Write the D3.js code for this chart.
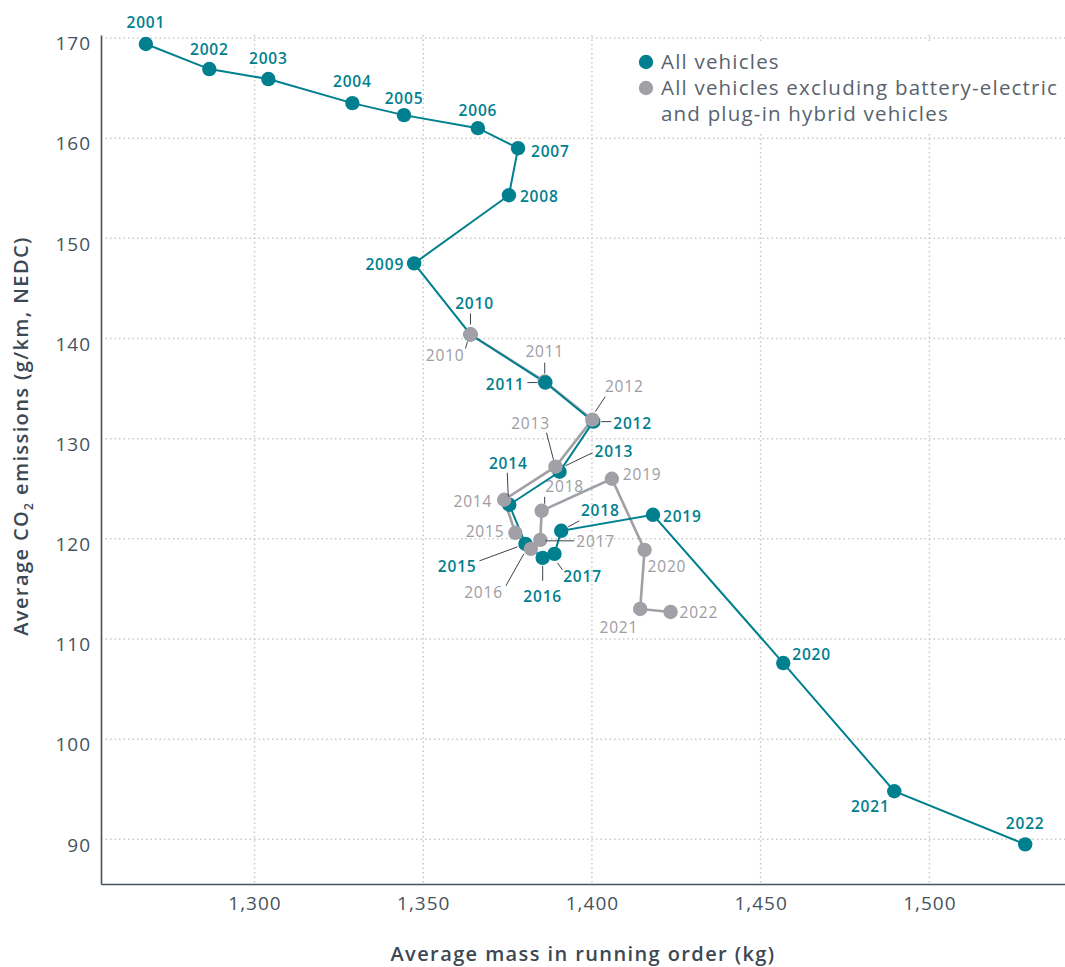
<!DOCTYPE html>
<html>
<head>
<meta charset="utf-8">
<script src="https://cdn.jsdelivr.net/npm/d3@7"></script>
<style>
  body { margin: 0; background: #fff; }
  svg { font-family: "Open Sans", sans-serif; }
</style>
</head>
<body>
<svg></svg>
<script>
// all vehicles
const YEARS = [2001, 2002, 2003, 2004, 2005, 2006, 2007, 2008, 2009, 2010, 2011,
  2012, 2013, 2014, 2015, 2016, 2017, 2018, 2019, 2020, 2021, 2022];
const ALL_MASS = [1267.8, 1286.6, 1304.1, 1329.0, 1344.3, 1366.2, 1378.1, 1375.4, 1347.3, 1364.0, 1386.2,
  1400.4, 1390.4, 1375.5, 1380.3, 1385.4, 1388.9, 1390.9, 1418.1, 1456.7, 1489.6, 1528.4];
const ALL_CO2 = [169.4, 166.9, 165.9, 163.5, 162.3, 161.0, 159.0, 154.3, 147.5, 140.4, 135.6,
  131.7, 126.7, 123.4, 119.5, 118.1, 118.5, 120.8, 122.4, 107.6, 94.8, 89.5];

// excluding BEV and PHEV
const EXCL_YEARS = [2010, 2011, 2012, 2013, 2014, 2015, 2016, 2017, 2018, 2019, 2020, 2021, 2022];
const EXCL_MASS = [1364.0, 1386.0, 1400.1, 1389.2, 1374.0, 1377.3, 1381.9, 1384.7, 1385.1, 1405.9, 1415.6, 1414.3, 1423.3];
const EXCL_CO2 = [140.4, 135.7, 131.9, 127.2, 123.9, 120.6, 119.0, 119.9, 122.8, 126.0, 118.9, 113.0, 112.7];

const X_TICKS = [1300, 1350, 1400, 1450, 1500];
const Y_TICKS = [90, 100, 110, 120, 130, 140, 150, 160, 170];

const TEAL = '#00808f';
const GREY = '#a0a0a6';
const INK = '#46525d';

// label placement (offset from dot in px, anchor, optional leader line)
const allLabelPos = {
  2001: [0, -22, 'middle'], 2002: [0, -20, 'middle'], 2003: [0, -21, 'middle'],
  2004: [0, -22, 'middle'], 2005: [0, -17, 'middle'], 2006: [0, -18, 'middle'],
  2007: [13, 3, 'start'], 2008: [11, 1, 'start'], 2009: [-10, 1, 'end'],
  2010: [4, -31, 'middle', [0, -21, 0, -10]],
  2011: [-21, 2, 'end', [-18, 0, -8, 0]],
  2012: [20, 2, 'start', [8, 0, 18, 0]],
  2013: [35, -20, 'start', [6, -6, 33, -19]],
  2014: [-1, -41, 'middle', [-2, -32, -1, -8]],
  2015: [-49, 23, 'end', [-46, 17, -8, 3]],
  2016: [0, 39, 'middle', [0, 8, 0, 23]],
  2017: [28, 23, 'middle', [3, 9, 8, 16]],
  2018: [39, -20, 'middle', [7, -4, 18, -10]],
  2019: [10, 2, 'start'], 2020: [9, -9, 'start'],
  2021: [-24, 15, 'middle'], 2022: [0, -21, 'middle']
};
const exclLabelPos = {
  2010: [-6, 21, 'end', [-3, 7, -5, 14]],
  2011: [0, -30, 'middle', [0, -19, 0, -8]],
  2012: [32, -33, 'middle', [13, -23, 3, -8]],
  2013: [-25, -43, 'middle', [-9, -34, -2, -7]],
  2014: [-12, 2, 'end'], 2015: [-11, -1, 'end'],
  2016: [-28, 44, 'end', [-25, 37, -7, 5]],
  2017: [36, 2, 'start', [5, 1, 34, 1]],
  2018: [23, -24, 'middle', [3, -14, 3, -7]],
  2019: [11, -4, 'start'], 2020: [3, 17, 'start'],
  2021: [-2, 18, 'end'], 2022: [9, 0, 'start']
};

const WIDTH = 1065, HEIGHT = 967;
const M = {top: 35, right: 0, bottom: 83, left: 101};

const svg = d3.select('svg').attr('width', WIDTH).attr('height', HEIGHT);

const x = d3.scaleLinear().domain([1254.5, 1540.2]).range([M.left, WIDTH - M.right]);
const y = d3.scaleLinear().domain([85.54, 170.3]).range([HEIGHT - M.bottom, M.top]);

// layers
const gridG = svg.append('g');
const axisG = svg.append('g');
const lineG = svg.append('g');
const dotG = svg.append('g');
const labelG = svg.append('g');
const legendG = svg.append('g');

// gridlines
gridG.attr('stroke', '#c9c9c9').attr('stroke-width', 1.5).attr('stroke-dasharray', '1.5,3');
gridG.selectAll('.gy').data(Y_TICKS).enter().append('line')
  .attr('x1', M.left).attr('x2', WIDTH).attr('y1', d => y(d)).attr('y2', d => y(d));
gridG.selectAll('.gx').data(X_TICKS).enter().append('line')
  .attr('x1', d => x(d)).attr('x2', d => x(d)).attr('y1', M.top).attr('y2', HEIGHT - M.bottom);

// axes
const xAxis = axisG.append('g')
  .attr('transform', `translate(0, ${HEIGHT - M.bottom})`)
  .call(d3.axisBottom(x).tickValues(X_TICKS).tickFormat(d3.format(',')).tickSize(0).tickPadding(13));
const yAxis = axisG.append('g')
  .attr('transform', `translate(${M.left}, 0)`)
  .call(d3.axisLeft(y).tickValues(Y_TICKS).tickSize(0).tickPadding(10));
[xAxis, yAxis].forEach(a => {
  a.select('.domain').attr('stroke', INK).attr('stroke-width', 1.6);
  a.selectAll('text').attr('fill', INK)
    .style('font-size', '19px').style('letter-spacing', '1px')
    .style('font-family', '"Open Sans", sans-serif');
});
yAxis.selectAll('text').attr('dy', '0.62em');

// axis titles
axisG.append('text')
  .attr('x', (M.left + WIDTH) / 2).attr('y', 961)
  .attr('text-anchor', 'middle').attr('fill', '#3c4853')
  .style('font-size', '20px').style('font-weight', 600).style('letter-spacing', '1.4px')
  .text('Average mass in running order (kg)');

const yt = axisG.append('text')
  .attr('transform', 'translate(28, 436) rotate(-90)')
  .attr('text-anchor', 'middle').attr('fill', '#3c4853')
  .style('font-size', '20px').style('font-weight', 600).style('letter-spacing', '1.4px');
yt.append('tspan').text('Average CO');
yt.append('tspan').text('2').style('font-size', '12px').attr('dy', 5);
yt.append('tspan').text(' emissions (g/km, NEDC)').attr('dy', -5);

// series
const allData = YEARS.map((yr, i) => ({year: yr, mass: ALL_MASS[i], co2: ALL_CO2[i]}));
const exclData = EXCL_YEARS.map((yr, i) => ({year: yr, mass: EXCL_MASS[i], co2: EXCL_CO2[i]}));

const line = d3.line().x(d => x(d.mass)).y(d => y(d.co2));

lineG.append('path').datum(exclData).attr('d', line)
  .attr('fill', 'none').attr('stroke', GREY).attr('stroke-width', 2.6);
lineG.append('path').datum(allData).attr('d', line)
  .attr('fill', 'none').attr('stroke', TEAL).attr('stroke-width', 2);

const tealDots = dotG.selectAll('.dotA').data(allData).enter().append('circle')
  .attr('cx', d => x(d.mass)).attr('cy', d => y(d.co2)).attr('r', 7.2).attr('fill', TEAL);
dotG.selectAll('.dotE').data(exclData).enter().append('circle')
  .attr('cx', d => x(d.mass)).attr('cy', d => y(d.co2)).attr('r', 7.2).attr('fill', GREY);
// in the source the 2011 teal dot sits over the grey one
tealDots.filter(d => d.year === 2011).raise();

// labels + leaders
function labels(data, pos, color, weight) {
  data.forEach(d => {
    const p = pos[d.year];
    const cx = x(d.mass), cy = y(d.co2);
    if (p[3]) {
      labelG.append('line')
        .attr('x1', cx + p[3][0]).attr('y1', cy + p[3][1])
        .attr('x2', cx + p[3][2]).attr('y2', cy + p[3][3])
        .attr('stroke', '#3a444e').attr('stroke-width', 1);
    }
    labelG.append('text')
      .attr('x', cx + p[0]).attr('y', cy + p[1]).attr('dy', '0.36em')
      .attr('text-anchor', p[2]).attr('fill', color)
      .style('font-size', '15.5px').style('font-weight', weight).style('letter-spacing', '0.8px')
      .text(d.year);
  });
}
labels(allData, allLabelPos, TEAL, 600);
labels(exclData, exclLabelPos, '#9c9ca2', 400);

// legend (white box hides grid)
legendG.append('rect').attr('x', 628).attr('y', 44).attr('width', 437).attr('height', 90).attr('fill', '#fff');
const legend = legendG.append('g').attr('transform', 'translate(646, 0)');
legend.append('circle').attr('cx', 0).attr('cy', 62).attr('r', 7.2).attr('fill', TEAL);
legend.append('circle').attr('cx', 0).attr('cy', 88).attr('r', 7.2).attr('fill', GREY);
const lt = legend.append('text').attr('fill', '#58636d')
  .style('font-size', '20.5px').style('letter-spacing', '1.2px');
lt.append('tspan').attr('x', 15).attr('y', 62).attr('dy', '0.35em').text('All vehicles');
lt.append('tspan').attr('x', 15).attr('y', 88).attr('dy', '0.35em').text('All vehicles excluding battery-electric');
lt.append('tspan').attr('x', 15).attr('y', 114).attr('dy', '0.35em').text('and plug-in hybrid vehicles');
</script>
</body>
</html>
